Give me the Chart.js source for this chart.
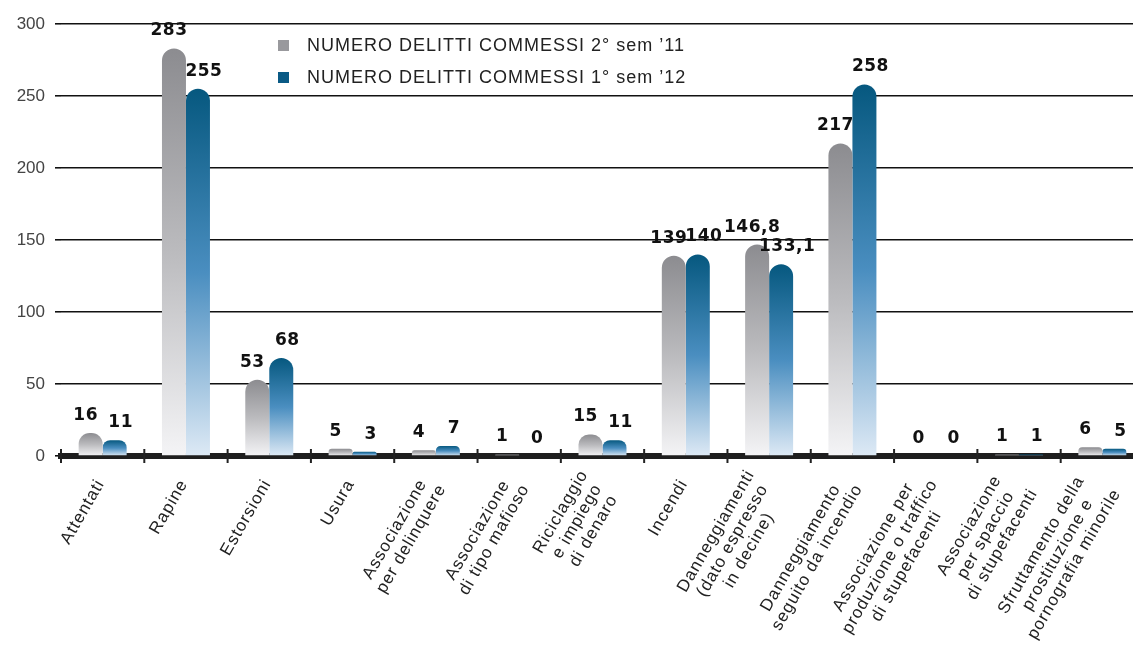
<!DOCTYPE html>
<html>
<head>
<meta charset="utf-8">
<script src="https://cdn.jsdelivr.net/npm/chart.js@4"></script>
<style>
  html, body { margin: 0; padding: 0; background: #fff; overflow: hidden; }
  #wrap { position: absolute; left: 0; top: 0; width: 1150px; height: 651px; }
</style>
</head>
<body>
<div id="wrap"><canvas id="chartDelitti" width="1150" height="651"></canvas></div>
<script>
// categorie (righe spezzate come nel grafico originale)
var categorie = [
  ["Attentati"],
  ["Rapine"],
  ["Estorsioni"],
  ["Usura"],
  ["Associazione", "per delinquere"],
  ["Associazione", "di tipo mafioso"],
  ["Riciclaggio", "e impiego", "di denaro"],
  ["Incendi"],
  ["Danneggiamenti", "(dato espresso", "in decine)"],
  ["Danneggiamento", "seguito da incendio"],
  ["Associazione per", "produzione o traffico", "di stupefacenti"],
  ["Associazione", "per spaccio", "di stupefacenti"],
  ["Sfruttamento della", "prostituzione e", "pornografia minorile"]
];
var sem2_11 = [16, 283, 53, 5, 4, 1, 15, 139, 146.8, 217, 0, 1, 6];
var sem1_12 = [11, 255, 68, 3, 7, 0, 11, 140, 133.1, 258, 0, 1, 5];
var etichette = ["NUMERO DELITTI COMMESSI 2° sem ’11", "NUMERO DELITTI COMMESSI 1° sem ’12"];
var yTicks = [0, 50, 100, 150, 200, 250, 300];

var stopGrigio = ["#8c8c90", "#bbbbbe", "#f4f4f6"];
var stopBlu = ["#06587f", "#4a8ec0", "#dde9f5"];

function gradiente(stops) {
  return function (ctx) {
    var chart = ctx.chart;
    if (!chart.chartArea || ctx.type !== "data") return stops[0];
    var ys = chart.scales.y;
    var top = ys.getPixelForValue(ctx.raw);
    var bottom = ys.getPixelForValue(0);
    if (bottom - top < 1) top = bottom - 1;
    var g = chart.ctx.createLinearGradient(0, top, 0, bottom);
    g.addColorStop(0, stops[0]);
    g.addColorStop(0.5, stops[1]);
    g.addColorStop(1, stops[2]);
    return g;
  };
}

function formatta(v) {
  return String(v).replace(".", ",");
}

// valori sopra le barre
var pluginValori = {
  id: "valori",
  afterDatasetsDraw: function (chart) {
    var ctx = chart.ctx;
    var spost = [-5, 6];
    ctx.save();
    ctx.font = "bold 17px 'DejaVu Sans'";
    ctx.letterSpacing = "0.5px";
    ctx.fillStyle = "#111";
    ctx.textAlign = "center";
    ctx.textBaseline = "bottom";
    chart.data.datasets.forEach(function (ds, i) {
      var meta = chart.getDatasetMeta(i);
      meta.data.forEach(function (bar, j) {
        ctx.fillText(formatta(ds.data[j]), bar.x + spost[i], bar.y - 9);
      });
    });
    ctx.restore();
  }
};

// etichette asse x ruotate, tacche e legenda
var pluginDecor = {
  id: "decor",
  afterDraw: function (chart) {
    var ctx = chart.ctx;
    var xs = chart.scales.x;
    var ys = chart.scales.y;
    var y0 = ys.getPixelForValue(0);
    var n = categorie.length;
    var w = xs.width / n;

    ctx.save();
    ctx.strokeStyle = "#222";
    ctx.lineWidth = 2;
    for (var i = 0; i <= n; i++) {
      var bx = xs.left + i * w;
      ctx.beginPath();
      ctx.moveTo(bx, y0 - 7);
      ctx.lineTo(bx, y0 + 7);
      ctx.stroke();
    }
    ctx.restore();

    ctx.save();
    ctx.font = "17px 'Liberation Sans'";
    ctx.letterSpacing = "1px";
    ctx.fillStyle = "#222";
    ctx.textAlign = "center";
    ctx.textBaseline = "middle";
    var lh = 19;
    categorie.forEach(function (righe, k) {
      var cx = xs.getPixelForValue(k);
      var maxW = 0;
      righe.forEach(function (r) { maxW = Math.max(maxW, ctx.measureText(r).width); });
      ctx.save();
      ctx.translate(cx - 2, y0 + 25);
      ctx.rotate(-60 * Math.PI / 180);
      righe.forEach(function (r, m) {
        var off = (m - (righe.length - 1) / 2) * lh;
        ctx.fillText(r, -maxW / 2, off);
      });
      ctx.restore();
    });
    ctx.restore();

    // legenda
    ctx.save();
    ctx.font = "18px 'Liberation Sans'";
    ctx.letterSpacing = "1px";
    ctx.textAlign = "left";
    ctx.textBaseline = "middle";
    var colori = ["#99999d", "#0a5a85"];
    etichette.forEach(function (t, k) {
      var ly = 46 + k * 32;
      ctx.fillStyle = colori[k];
      ctx.fillRect(278, ly - 6, 11, 11);
      ctx.fillStyle = "#222";
      ctx.fillText(t, 307, ly);
    });
    ctx.restore();
  }
};

var ctxDelitti = document.getElementById("chartDelitti").getContext("2d");
ctxDelitti.letterSpacing = "2px";

var chartDelitti = new Chart(ctxDelitti, {
  type: "bar",
  data: {
    labels: categorie,
    datasets: [
      {
        label: etichette[0],
        data: sem2_11,
        backgroundColor: gradiente(stopGrigio),
        borderRadius: { topLeft: 12, topRight: 12, bottomLeft: 0, bottomRight: 0 },
        borderSkipped: "bottom",
        categoryPercentage: 0.576,
        barPercentage: 1
      },
      {
        label: etichette[1],
        data: sem1_12,
        backgroundColor: gradiente(stopBlu),
        borderRadius: { topLeft: 12, topRight: 12, bottomLeft: 0, bottomRight: 0 },
        borderSkipped: "bottom",
        categoryPercentage: 0.576,
        barPercentage: 1
      }
    ]
  },
  options: {
    responsive: false,
    animation: false,
    layout: { padding: { top: 24, right: 6, left: 0, bottom: 0 } },
    plugins: {
      legend: { display: false },
      tooltip: { enabled: false }
    },
    scales: {
      x: {
        grid: { display: false },
        border: { display: true, color: "#1e1e1e", width: 6 },
        ticks: { display: false },
        afterFit: function (scale) { scale.height = 195; }
      },
      y: {
        min: 0,
        max: 300,
        z: 1,
        afterBuildTicks: function (scale) {
          scale.ticks = yTicks.map(function (v) { return { value: v }; });
        },
        afterFit: function (scale) { scale.width = 61; },
        grid: { color: "#111", lineWidth: 1.6, drawTicks: true, tickLength: 6 },
        border: { display: false },
        ticks: {
          padding: 10,
          color: "#444",
          font: { family: "'Liberation Sans'", size: 17 }
        }
      }
    }
  },
  plugins: [pluginValori, pluginDecor]
});
</script>
</body>
</html>
